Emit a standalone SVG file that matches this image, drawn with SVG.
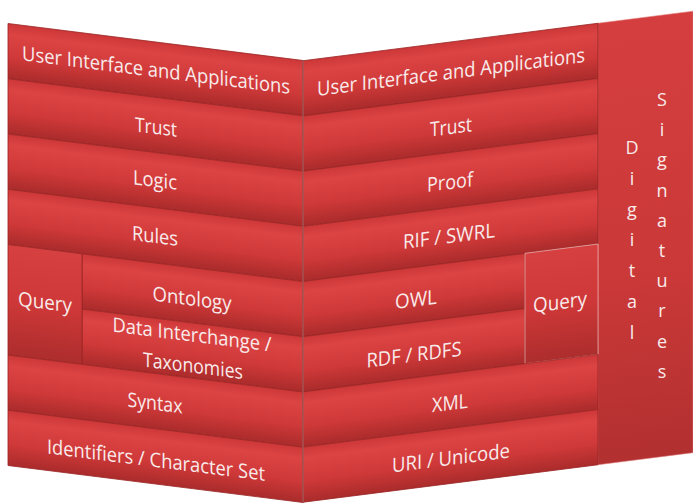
<svg xmlns="http://www.w3.org/2000/svg" width="693" height="503" viewBox="0 0 693 503">
<defs>
<linearGradient id="band" x1="0" y1="0" x2="0" y2="1">
<stop offset="0" stop-color="#cd3737"/>
<stop offset="0.2" stop-color="#dc4444"/>
<stop offset="0.6" stop-color="#d03939"/>
<stop offset="1" stop-color="#aa2b2b"/>
</linearGradient>
<linearGradient id="tall" x1="0" y1="0" x2="0" y2="1">
<stop offset="0" stop-color="#d74040"/>
<stop offset="0.5" stop-color="#cf3838"/>
<stop offset="1" stop-color="#ad2d2d"/>
</linearGradient>
<linearGradient id="col" x1="0" y1="0" x2="0" y2="1">
<stop offset="0" stop-color="#d53e3e"/>
<stop offset="0.6" stop-color="#ca3838"/>
<stop offset="1" stop-color="#b23030"/>
</linearGradient>
</defs>
<style>
.band{fill:url(#band);stroke:#9a2626;stroke-width:0.8}
.q{fill:url(#tall);stroke:#9a2626;stroke-width:0.8}
.qr{fill:url(#tall);stroke:#efc9c9;stroke-width:0.8;stroke-opacity:0.75}
.t{font-family:"Open Sans","Liberation Sans",sans-serif;font-size:20px;fill:#f8ebeb;text-anchor:middle}
.v{font-family:"Open Sans","Liberation Sans",sans-serif;font-size:18px;fill:#f8ebeb;text-anchor:middle}
</style>
<rect width="693" height="503" fill="#ffffff"/>
<g id="left-panel" transform="matrix(1,0.1254,0,1,0,22.5)">
<g id="l-ui"><rect class="band" x="8" y="0" width="295" height="55.25"/><text class="t" x="156" y="35" textLength="268" lengthAdjust="spacingAndGlyphs">User Interface and Applications</text></g>
<g id="l-trust"><rect class="band" x="8" y="55.25" width="295" height="55.25"/><text class="t" x="156" y="92" textLength="42" lengthAdjust="spacingAndGlyphs">Trust</text></g>
<g id="l-logic"><rect class="band" x="8" y="110.5" width="295" height="55.25"/><text class="t" x="155" y="145" textLength="44" lengthAdjust="spacingAndGlyphs">Logic</text></g>
<g id="l-rules"><rect class="band" x="8" y="165.75" width="295" height="55.25"/><text class="t" x="155" y="201" textLength="46" lengthAdjust="spacingAndGlyphs">Rules</text></g>
<g id="l-ontology"><rect class="band" x="82" y="221" width="221" height="55.25"/><text class="t" x="192" y="259" textLength="79" lengthAdjust="spacingAndGlyphs">Ontology</text></g>
<g id="l-data"><rect class="band" x="82" y="276.25" width="221" height="55.25"/><text class="t" x="192" y="295" textLength="159" lengthAdjust="spacingAndGlyphs">Data Interchange /</text><text class="t" x="193" y="326" textLength="100" lengthAdjust="spacingAndGlyphs">Taxonomies</text></g>
<g id="l-query"><rect class="q" x="8" y="221" width="74" height="110.5"/><text class="t" x="45" y="281" textLength="54" lengthAdjust="spacingAndGlyphs">Query</text></g>
<g id="l-syntax"><rect class="band" x="8" y="331.5" width="295" height="55.25"/><text class="t" x="155" y="368" textLength="55" lengthAdjust="spacingAndGlyphs">Syntax</text></g>
<g id="l-ident"><rect class="band" x="8" y="386.75" width="295" height="55.25"/><text class="t" x="156" y="425" textLength="218" lengthAdjust="spacingAndGlyphs">Identifiers / Character Set</text></g>
</g>
<g id="right-panel" transform="matrix(1,-0.1271,0,1,0,99.26)">
<g id="digital-signatures-bg"><rect x="598" y="0" width="95" height="441.5" fill="url(#col)" stroke="#e07a7a" stroke-width="0.8" stroke-opacity="0.7"/></g>
<g id="r-ui"><rect class="band" x="303" y="0" width="295" height="55.19"/><text class="t" x="451" y="37" textLength="268" lengthAdjust="spacingAndGlyphs">User Interface and Applications</text></g>
<g id="r-trust"><rect class="band" x="303" y="55.19" width="295" height="55.19"/><text class="t" x="451" y="92" textLength="42" lengthAdjust="spacingAndGlyphs">Trust</text></g>
<g id="r-proof"><rect class="band" x="303" y="110.38" width="295" height="55.19"/><text class="t" x="450" y="147" textLength="46" lengthAdjust="spacingAndGlyphs">Proof</text></g>
<g id="r-rif"><rect class="band" x="303" y="165.56" width="295" height="55.19"/><text class="t" x="449" y="201" textLength="92" lengthAdjust="spacingAndGlyphs">RIF / SWRL</text></g>
<g id="r-owl"><rect class="band" x="303" y="220.75" width="222" height="55.19"/><text class="t" x="416" y="260" textLength="42" lengthAdjust="spacingAndGlyphs">OWL</text></g>
<g id="r-rdf"><rect class="band" x="303" y="275.94" width="222" height="55.19"/><text class="t" x="414" y="315" textLength="95" lengthAdjust="spacingAndGlyphs">RDF / RDFS</text></g>
<g id="r-query"><rect class="qr" x="525" y="220.75" width="73" height="110.38"/><text class="t" x="560" y="281" textLength="54" lengthAdjust="spacingAndGlyphs">Query</text></g>
<g id="r-xml"><rect class="band" x="303" y="331.13" width="295" height="55.19"/><text class="t" x="450" y="368" textLength="36" lengthAdjust="spacingAndGlyphs">XML</text></g>
<g id="r-uri"><rect class="band" x="303" y="386.31" width="295" height="55.19"/><text class="t" x="451" y="423" textLength="118" lengthAdjust="spacingAndGlyphs">URI / Unicode</text></g>
</g>
<g id="digital-signatures">
<text class="v" x="632" y="154">D</text>
<text class="v" x="632" y="185">i</text>
<text class="v" x="632" y="216">g</text>
<text class="v" x="632" y="246">i</text>
<text class="v" x="632" y="277">t</text>
<text class="v" x="632" y="308">a</text>
<text class="v" x="632" y="339">l</text>
<text class="v" x="662" y="106">S</text>
<text class="v" x="662" y="136">i</text>
<text class="v" x="662" y="166">g</text>
<text class="v" x="662" y="197">n</text>
<text class="v" x="662" y="227">a</text>
<text class="v" x="662" y="257">t</text>
<text class="v" x="662" y="287">u</text>
<text class="v" x="662" y="317">r</text>
<text class="v" x="662" y="348">e</text>
<text class="v" x="662" y="378">s</text>
</g>
<g id="fold"><line x1="303" y1="60.5" x2="303" y2="502" stroke="#a86a6a" stroke-width="1"/></g>
</svg>
